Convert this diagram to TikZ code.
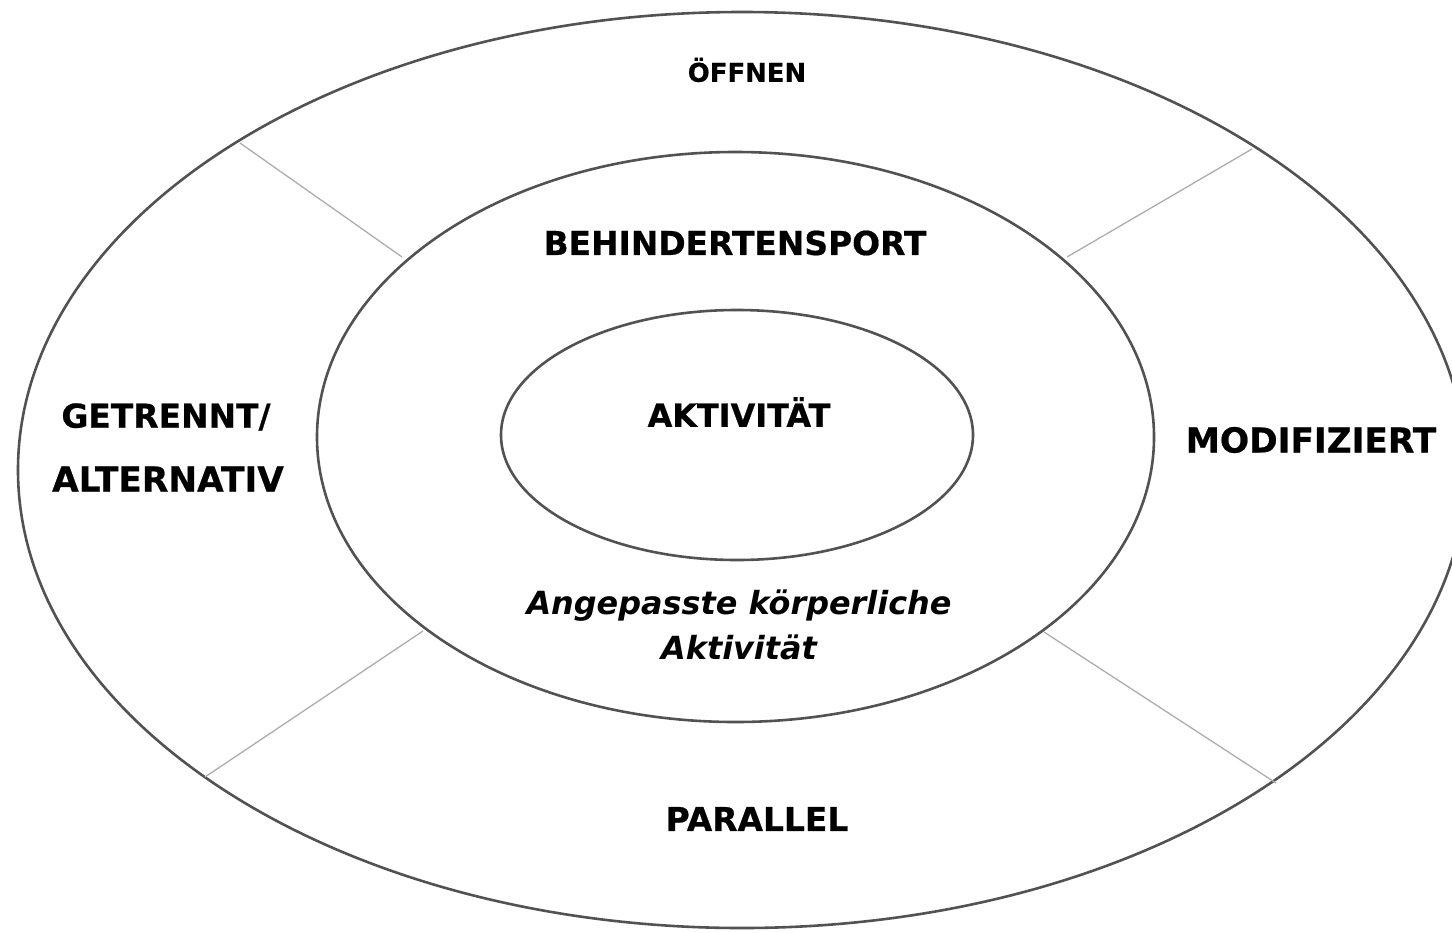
\documentclass[tikz,border=0pt]{standalone}
\usepackage{fontspec}
\setmainfont{DejaVu Sans}[BoldFeatures={FakeBold=0.6}]
\usetikzlibrary{shapes.geometric}
\tikzset{
  ring/.style={draw=black!68, line width=2.6pt, ellipse, inner sep=0pt},
  divider/.style={draw=black!32, line width=1.3pt},
  lbl/.style={font=\bfseries\fontsize{33}{39}\selectfont, text=black, align=center, inner sep=0pt},
}
\begin{document}
\begin{tikzpicture}[x=1bp, y=-1bp]
\useasboundingbox[fill=white] (0,0) rectangle (1452,932);
% rings
\node[ring, minimum width=1448bp, minimum height=916bp] (outer) at (742,470) {};
\node[ring, minimum width=837bp, minimum height=570bp] (middle) at (735.5,437) {};
\node[ring, minimum width=472bp, minimum height=250bp] (inner) at (737,435) {};
% divider end points
\coordinate (d1a) at (240,143); \coordinate (d1b) at (402,257);
\coordinate (d2a) at (1252,149); \coordinate (d2b) at (1067,257);
\coordinate (d3a) at (205,777); \coordinate (d3b) at (423,631);
\coordinate (d4a) at (1276,783); \coordinate (d4b) at (1044,632);
\draw[divider] (d1a) -- (d1b);
\draw[divider] (d2a) -- (d2b);
\draw[divider] (d3a) -- (d3b);
\draw[divider] (d4a) -- (d4b);
% labels
\node[lbl, font=\bfseries\fontsize{26}{31}\selectfont] (oeffnen) at (747,70) {ÖFFNEN};
\node[lbl] (behind) at (735,243) {BEHINDERTENSPORT};
\node[lbl, font=\bfseries\fontsize{32}{38}\selectfont] (akt) at (739,412) {AKTIVITÄT};
\node[lbl] (getr) at (166,417) {GETRENNT/};
\node[lbl, font=\bfseries\fontsize{34.5}{40}\selectfont] (alt) at (168,479) {ALTERNATIV};
\node[lbl, font=\bfseries\fontsize{34.5}{40}\selectfont] (modi) at (1311,440) {MODIFIZIERT};
\node[lbl, font=\bfseries\itshape\fontsize{32}{38}\selectfont] (ang) at (739,606) {Angepasste körperliche};
\node[lbl, font=\bfseries\itshape\fontsize{32}{38}\selectfont] (akt2) at (739,647) {Aktivität};
\node[lbl] (para) at (757,819) {PARALLEL};
\end{tikzpicture}
\end{document}
